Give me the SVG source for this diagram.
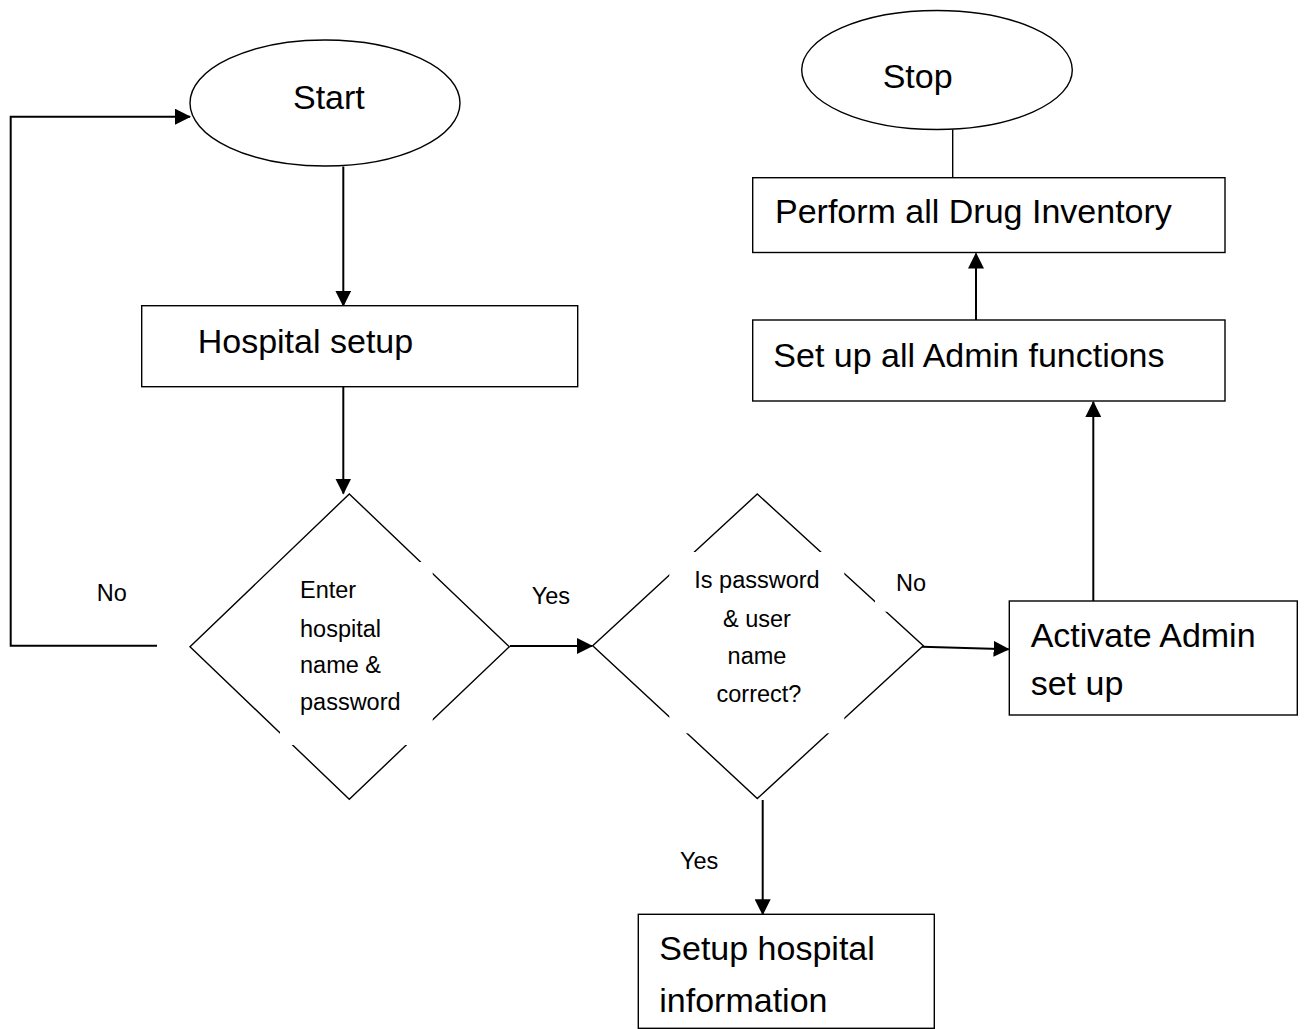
<svg xmlns="http://www.w3.org/2000/svg" width="1304" height="1029" viewBox="0 0 1304 1029">
  <style>
    .shape { fill: #ffffff; stroke: #000000; stroke-width: 1.4; }
    .pad { fill: #ffffff; stroke: none; }
    .big { font-family: "Liberation Sans", Arial, sans-serif; font-size: 34px; fill: #000000; }
    .small { font-family: "Liberation Sans", Arial, sans-serif; font-size: 23.5px; fill: #000000; }
    .link { fill: none; stroke: #000000; stroke-width: 2; }
    .plain { fill: none; stroke: #000000; stroke-width: 1.4; }
  </style>
  <defs>
    <marker id="arrow" viewBox="0 0 16 16" refX="15" refY="8" markerWidth="16" markerHeight="16" markerUnits="userSpaceOnUse" orient="auto">
      <path d="M0,0 L16,8 L0,16 Z" fill="#000000"/>
    </marker>
  </defs>
  <rect width="1304" height="1029" fill="#ffffff"/>

  <!-- connectors -->
  <g id="connectors">
    <line class="link" x1="343.3" y1="166.5" x2="343.3" y2="305.7" marker-end="url(#arrow)"/>
    <line class="link" x1="343.3" y1="386.7" x2="343.3" y2="493.5" marker-end="url(#arrow)"/>
    <polyline class="link" points="157,645.7 10.7,645.7 10.7,116.7 190,116.7" marker-end="url(#arrow)"/>
    <line class="link" x1="510" y1="646" x2="592" y2="646" marker-end="url(#arrow)"/>
    <line class="link" x1="922" y1="646.7" x2="1008.6" y2="649.3" marker-end="url(#arrow)"/>
    <line class="link" x1="762.7" y1="800" x2="762.7" y2="914.3" marker-end="url(#arrow)"/>
    <line class="link" x1="1093.3" y1="601" x2="1093.3" y2="402" marker-end="url(#arrow)"/>
    <line class="link" x1="976" y1="320" x2="976" y2="253.5" marker-end="url(#arrow)"/>
    <line class="plain" x1="952.7" y1="177.7" x2="952.7" y2="129.5"/>
  </g>

  <g id="start">
    <ellipse class="shape" cx="325" cy="103" rx="135" ry="63"/>
    <text class="big" x="293" y="109">Start</text>
  </g>

  <g id="hospital-setup">
    <rect class="shape" x="141.7" y="305.7" width="436" height="81"/>
    <text class="big" x="197.7" y="352.7">Hospital setup</text>
  </g>

  <g id="enter-credentials">
    <polygon class="shape" points="349.3,494 509.3,646.7 349.3,799.3 190,646.7"/>
    <rect class="pad" x="280" y="562" width="152.7" height="183"/>
    <text class="small" x="300" y="598.3">Enter</text>
    <text class="small" x="300" y="636.7">hospital</text>
    <text class="small" x="300" y="673.3">name &amp;</text>
    <text class="small" x="300" y="710">password</text>
  </g>

  <g id="check-credentials">
    <polygon class="shape" points="757.3,494 923.3,645.7 757.3,798.5 592.7,645.7"/>
    <rect class="pad" x="669.3" y="552" width="175" height="181.3"/>
    <text class="small" x="757" y="588.3" text-anchor="middle">Is password</text>
    <text class="small" x="757" y="626.7" text-anchor="middle">&amp; user</text>
    <text class="small" x="757" y="664.3" text-anchor="middle">name</text>
    <text class="small" x="759" y="701.7" text-anchor="middle">correct?</text>
  </g>

  <!-- branch labels; the "No" pad sits over the decision outline -->
  <g id="labels">
    <text class="small" x="96.7" y="600.7">No</text>
    <text class="small" x="531.7" y="604">Yes</text>
    <rect class="pad" x="875" y="560" width="70" height="51.7"/>
    <text class="small" x="896" y="590.7">No</text>
    <text class="small" x="680" y="869.3">Yes</text>
  </g>

  <g id="setup-info">
    <rect class="shape" x="638.3" y="914.3" width="296" height="114"/>
    <text class="big" x="659.3" y="960">Setup hospital</text>
    <text class="big" x="659.3" y="1011.7">information</text>
  </g>

  <g id="activate-admin">
    <rect class="shape" x="1009.3" y="601" width="288" height="114"/>
    <text class="big" x="1030.7" y="647.3">Activate Admin</text>
    <text class="big" x="1030.7" y="695">set up</text>
  </g>

  <g id="admin-functions">
    <rect class="shape" x="752.7" y="320" width="472.3" height="81"/>
    <text class="big" x="773.3" y="366.7">Set up all Admin functions</text>
  </g>

  <g id="drug-inventory">
    <rect class="shape" x="752.7" y="177.7" width="472.3" height="74.8"/>
    <text class="big" x="775" y="223.3">Perform all Drug Inventory</text>
  </g>

  <g id="stop">
    <ellipse class="shape" cx="937" cy="70" rx="135.3" ry="59.5"/>
    <text class="big" x="882.7" y="88.3">Stop</text>
  </g>
</svg>
